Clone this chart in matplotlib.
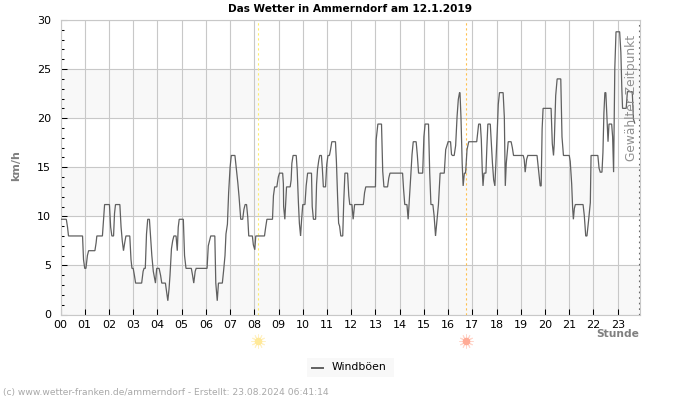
"""Das Wetter in Ammerndorf - Windboeen ueber den Tag."""

import matplotlib
matplotlib.use('Agg')
import matplotlib.pyplot as plt
from matplotlib.patches import Rectangle

TITLE = 'Das Wetter in Ammerndorf am 12.1.2019'
FOOTER = '(c) www.wetter-franken.de/ammerndorf - Erstellt: 23.08.2024 06:41:14'
HOUR_LABELS = [f'{h:02d}' for h in range(24)]
SUNRISE = 8.15
SUNSET = 16.72
SELECTED = 23.86

# (hour, km/h), one list per stretch of the day
night_h = [0, 0.24, 0.29, 0.33, 0.91, 0.95, 1.0, 1.05, 1.11, 1.16, 1.42, 1.47, 1.5, 1.73, 1.78, 1.82, 2.02, 2.07,
           2.12, 2.19, 2.23, 2.27, 2.45, 2.5, 2.55, 2.6, 2.65, 2.7, 2.86, 2.91, 2.95, 3.0, 3.05, 3.1, 3.35, 3.41,
           3.45, 3.5, 3.55, 3.6, 3.67, 3.71, 3.77, 3.83, 3.92, 3.97, 4.07, 4.13, 4.18, 4.33, 4.38, 4.43, 4.48,
           4.52, 4.58, 4.63, 4.68, 4.77, 4.82, 4.86, 4.9, 5.07, 5.12, 5.18, 5.4, 5.45, 5.5, 5.56, 5.6, 6.05, 6.1,
           6.2, 6.37, 6.41, 6.47, 6.52, 6.68, 6.73, 6.79, 6.83, 6.89, 6.94, 7.0, 7.05, 7.2, 7.26, 7.32, 7.37, 7.41,
           7.44, 7.52, 7.57, 7.62, 7.68, 7.73, 7.77, 7.92, 7.96, 8.02, 8.06, 8.13, 8.42, 8.47]
night_v = [9.7, 9.7, 8.9, 8.0, 8.0, 5.6, 4.7, 4.7, 6.0, 6.5, 6.5, 7.3, 8.0, 8.0, 9.7, 11.2, 11.2, 8.9,
           8.0, 8.0, 10.3, 11.2, 11.2, 8.9, 7.5, 6.5, 7.3, 8.0, 8.0, 5.6, 4.7, 4.7, 4.0, 3.2, 3.2, 4.4,
           4.7, 4.7, 8.2, 9.7, 9.7, 8.2, 6.0, 4.4, 3.2, 4.7, 4.7, 4.0, 3.2, 3.2, 2.3, 1.4, 2.6,
           4.0, 6.7, 7.5, 8.0, 8.0, 6.5, 8.9, 9.7, 9.7, 6.0, 4.7, 4.7, 4.0, 3.2, 4.4, 4.7, 4.7, 7.0,
           8.0, 8.0, 3.2, 1.4, 3.2, 3.2, 4.4, 6.0, 8.2, 9.2, 12.4, 15.0, 16.2, 16.2, 14.8, 13.4, 12.0, 10.6,
           9.7, 9.7, 10.7, 11.2, 11.2, 9.9, 8.0, 8.0, 7.1, 6.6, 8.0, 8.0, 8.0, 8.9]

day_h = [8.52, 8.75, 8.79, 8.84, 8.93, 8.99, 9.04, 9.17, 9.2, 9.21, 9.26, 9.29, 9.33, 9.48, 9.52, 9.55, 9.6, 9.73,
         9.77, 9.82, 9.86, 9.91, 9.95, 10.0, 10.09, 10.14, 10.2, 10.36, 10.39, 10.44, 10.53, 10.57, 10.61, 10.66,
         10.7, 10.77, 10.81, 10.85, 10.94, 10.99, 11.04, 11.1, 11.14, 11.2, 11.35, 11.39, 11.44, 11.48, 11.52,
         11.57, 11.65, 11.69, 11.74, 11.85, 11.9, 11.94, 12.03, 12.08, 12.14, 12.18, 12.5, 12.55, 12.6, 13.0,
         13.03, 13.1, 13.25, 13.3, 13.35, 13.5, 13.55, 13.6, 14.12, 14.16, 14.21, 14.3, 14.35, 14.41, 14.46, 14.51,
         14.56, 14.68, 14.73, 14.78, 14.95, 15.0, 15.05, 15.19, 15.24, 15.29, 15.37, 15.42, 15.48, 15.53, 15.6,
         15.67, 15.73, 15.84, 15.9, 16.0, 16.1, 16.14, 16.18, 16.25, 16.31, 16.37, 16.42, 16.47]
day_v = [9.7, 9.7, 12.1, 13.0, 13.0, 14.0, 14.4, 14.4, 13.3, 11.0, 9.7, 11.1, 13.0, 13.0, 13.7, 15.4, 16.2, 16.2,
         14.7, 11.4, 9.3, 8.0, 9.6, 11.2, 11.2, 13.1, 14.4, 14.4, 11.0, 9.7, 9.7, 13.3, 14.8, 15.7,
         16.2, 16.2, 14.8, 13.0, 13.0, 15.3, 16.2, 16.2, 16.7, 17.6, 17.6, 15.5, 11.8, 9.3, 9.0,
         8.0, 8.0, 11.4, 14.4, 14.4, 12.1, 11.2, 11.2, 9.7, 11.2, 11.2, 11.2, 12.4, 13.0, 13.0,
         17.8, 19.4, 19.4, 14.6, 13.0, 13.0, 13.9, 14.4, 14.4, 12.8, 11.2, 11.2, 9.7, 12.1, 14.2, 16.3,
         17.6, 17.6, 16.2, 14.4, 14.4, 18.1, 19.4, 19.4, 14.4, 11.2, 11.2, 10.1, 8.0, 9.3, 11.2,
         14.4, 14.4, 14.4, 16.8, 17.6, 17.6, 16.3, 16.2, 16.2, 17.2, 20.2, 21.9, 22.6]

evening_h = [16.49, 16.53, 16.58, 16.62, 16.67, 16.72, 16.78, 16.85, 17.18, 17.22, 17.26, 17.33, 17.37, 17.41, 17.44,
             17.48, 17.56, 17.6, 17.64, 17.74, 17.79, 17.83, 17.88, 17.93, 17.97, 18.03, 18.07, 18.12, 18.27, 18.32,
             18.36, 18.4, 18.44, 18.48, 18.6, 18.65, 18.7, 19.1, 19.14, 19.18, 19.24, 19.29, 19.67, 19.73, 19.8,
             19.84, 19.88, 19.92, 20.25, 20.3, 20.35, 20.38, 20.44, 20.5, 20.65, 20.7, 20.76, 21.0, 21.04, 21.1,
             21.14, 21.17, 21.21, 21.25, 21.57, 21.62, 21.68, 21.73, 21.79, 21.87, 21.9, 22.18, 22.23, 22.28, 22.35,
             22.39, 22.43, 22.47, 22.51, 22.55, 22.6, 22.64, 22.75, 22.79, 22.83, 22.88, 22.93, 23.08, 23.13,
             23.17, 23.2, 23.35, 23.4, 23.6, 23.65, 23.7]
evening_v = [22.6, 20.1, 15.4, 13.1, 14.4, 14.4, 16.8, 17.6, 17.6, 18.5, 19.4, 19.4, 17.8, 14.6, 13.1,
             14.4, 14.4, 17.1, 19.4, 19.4, 17.1, 15.4, 13.7, 13.1, 15.3, 18.8, 21.4, 22.6, 22.6, 20.1,
             13.1, 15.4, 16.5, 17.6, 17.6, 17.0, 16.2, 16.2, 15.8, 14.5, 15.8, 16.2, 16.2, 14.8, 13.1,
             13.1, 18.9, 21.0, 21.0, 17.4, 16.2, 17.4, 22.3, 24.0, 24.0, 18.1, 16.2, 16.2, 15.6, 13.3,
             10.8, 9.7, 10.8, 11.2, 11.2, 10.1, 8.0, 8.0, 9.4, 11.4, 16.2, 16.2, 14.9, 14.5, 14.5,
             16.5, 20.5, 22.6, 22.6, 20.3, 17.6, 19.4, 19.4, 18.1, 14.5, 25.1, 28.8, 28.8, 26.7,
             23.0, 21.0, 21.0, 22.7, 22.7, 19.9, 19.5]

fig = plt.figure(figsize=(7, 4), dpi=100)
ax = fig.add_axes([60.5 / 700, 1 - 314.5 / 400, 579.5 / 700, 294.5 / 400])

# alternating bands behind the grid
for low in (0, 10, 20):
    ax.axhspan(low, low + 5, color='#f8f8f8', zorder=0, lw=0)
ax.set_axisbelow(True)
ax.grid(True, color='#c8c8c8', lw=0.8)

hours = night_h + day_h + evening_h
gusts = night_v + day_v + evening_v
ax.plot(hours, gusts, color='#606060', lw=0.9, zorder=3, solid_joinstyle='miter')

ax.axvline(SUNRISE, color='#ffee66', lw=0.8, ls=(0, (2, 2.5)), zorder=2)
ax.axvline(SUNSET, color='#ffc04d', lw=0.8, ls=(0, (2, 2.5)), zorder=2)
ax.axvline(SELECTED, color='#666666', lw=0.8, ls=(0, (1.5, 3.5)), zorder=2)

ax.set_xlim(0, 23.92)
ax.set_ylim(0, 30)
ax.set_xticks(range(24))
ax.set_xticklabels(HOUR_LABELS)
ax.set_yticks(range(0, 31, 5))
ax.set_yticks(range(0, 31), minor=True)
ax.tick_params(axis='x', direction='in', length=4, width=0.75, color='black', pad=4, labelsize=8)
ax.tick_params(axis='y', which='major', direction='in', length=4, width=0.75, color='black', pad=7, labelsize=8)
ax.tick_params(axis='y', which='minor', direction='in', length=2, width=0.75, color='black')
for spine in ax.spines.values():
    spine.set_color('#c8c8c8')
    spine.set_linewidth(0.8)

fig.text(349.5 / 700, 1 - 9 / 400, TITLE, ha='center', va='center', fontsize=7.55, fontweight='bold')
fig.text(16 / 700, 1 - 166 / 400, 'km/h', rotation=90, ha='center', va='center',
         fontsize=8, fontweight='bold', color='#808080')
fig.text(639 / 700, 1 - 334 / 400, 'Stunde', ha='right', va='center',
         fontsize=7.7, fontweight='bold', color='#808080')
fig.text(631 / 700, 1 - 98 / 400, 'Gewählter Zeitpunkt', rotation=90, ha='center', va='center',
         fontsize=8.8, color='#909090', zorder=5)
fig.text(3 / 700, 1 - 393 / 400, FOOTER, ha='left', va='center', fontsize=6.6, color='#a8a8a8')

# sun symbols under the axis at sunrise and sunset
for hour, core, rays in ((SUNRISE, '#ffe999', '#fff1c4'), (SUNSET, '#ffab96', '#ffd6cb')):
    ax.plot(hour, -2.75, marker=(12, 2), ms=10, mew=0.7, color=rays, clip_on=False, zorder=4)
    ax.plot(hour, -2.75, marker='o', ms=5.5, mew=0, color=core, clip_on=False, zorder=5)

# legend box
fig.add_artist(Rectangle((307 / 700, 1 - 377 / 400), 87 / 700, 19 / 400, transform=fig.transFigure,
                         facecolor='#f8f8f8', edgecolor='none'))
fig.add_artist(plt.Line2D([312 / 700, 323 / 700], [1 - 368 / 400, 1 - 368 / 400], color='#606060', lw=1.4))
fig.text(332 / 700, 1 - 366.5 / 400, 'Windböen', ha='left', va='center', fontsize=7.8)

fig.savefig('out.png', dpi=100)
